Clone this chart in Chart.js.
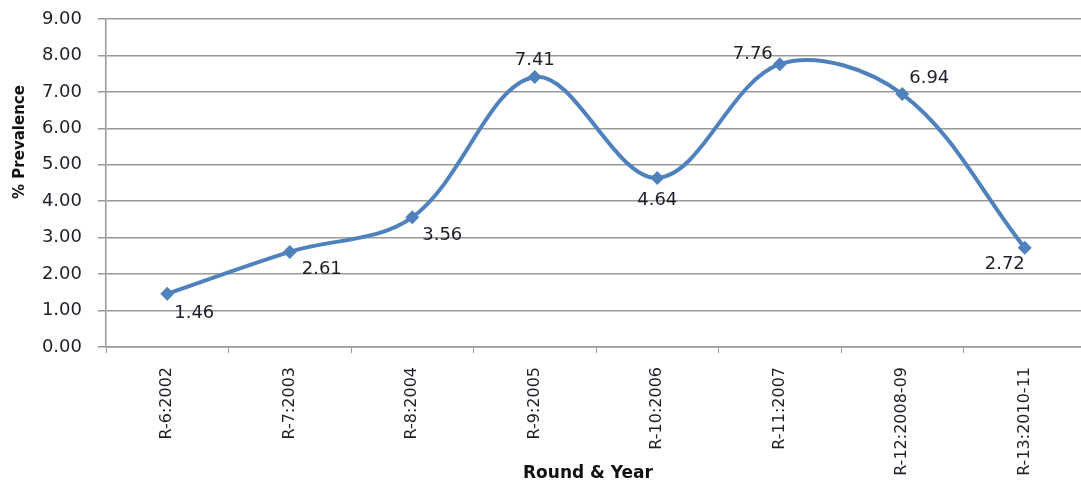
<!DOCTYPE html>
<html>
<head>
<meta charset="utf-8">
<script src="https://cdn.jsdelivr.net/npm/chart.js@4/dist/chart.umd.min.js"></script>
<style>
	html, body { margin: 0; padding: 0; background: #fff; overflow: hidden; }
	/* plot runs a few px past the right edge of the picture, as in the original */
	#wrap { width: 1093px; height: 485px; position: relative; }
</style>
</head>
<body>
<div id="wrap"><canvas id="prevalenceChart"></canvas></div>
<script>
const rounds = ['R-6:2002', 'R-7:2003', 'R-8:2004', 'R-9:2005', 'R-10:2006', 'R-11:2007', 'R-12:2008-09', 'R-13:2010-11'];
const prevalence = [1.46, 2.61, 3.56, 7.41, 4.64, 7.76, 6.94, 2.72];
const yTicks = [0, 1, 2, 3, 4, 5, 6, 7, 8, 9];

// label offsets from each point (px), as placed in the original
const labelOffsets = [[27, 20], [32, 17], [30, 18], [0, -17], [0, 22], [-27, -10], [27, -16], [-20, 16]];

const gridColor = '#999';
const textColor = '#1f1f2a';

const pointLabels = {
	id: 'pointLabels',
	afterDatasetsDraw(chart) {
		const { ctx } = chart;
		const meta = chart.getDatasetMeta(0);
		ctx.save();
		ctx.font = '18px "DejaVu Sans"';
		ctx.fillStyle = textColor;
		ctx.textAlign = 'center';
		ctx.textBaseline = 'middle';
		meta.data.forEach((pt, i) => {
			const [dx, dy] = labelOffsets[i];
			ctx.fillText(prevalence[i].toFixed(2), pt.x + dx, pt.y + dy);
		});
		ctx.restore();
	},
};

const axisTitles = {
	id: 'axisTitles',
	afterDraw(chart) {
		const { ctx } = chart;
		ctx.save();
		ctx.fillStyle = '#111';
		ctx.textAlign = 'center';
		ctx.textBaseline = 'middle';
		ctx.font = 'bold 17px "DejaVu Sans"';
		ctx.fillText('Round & Year', 588, 474);
		ctx.translate(20, 142);
		ctx.rotate(-Math.PI / 2);
		ctx.font = 'bold 15px "DejaVu Sans"';
		ctx.fillText('% Prevalence', 0, 0);
		ctx.restore();
	},
};

function trimPadding(scale) {
	scale.paddingTop = 0;
	scale.paddingBottom = 0;
}

new Chart(document.getElementById('prevalenceChart'), {
	type: 'line',
	data: {
		labels: rounds,
		datasets: [
			{
				label: '% Prevalence',
				data: prevalence,
				borderColor: '#4f81bd',
				backgroundColor: '#4f81bd',
				borderWidth: 4,
				tension: 0.35,
				pointStyle: 'rectRot',
				pointRadius: 7,
				pointBorderWidth: 0,
				fill: false,
			},
		],
	},
	options: {
		responsive: true,
		maintainAspectRatio: false,
		animation: false,
		layout: { padding: { top: 19, right: 0, bottom: 0, left: 0 } },
		plugins: {
			legend: { display: false },
			tooltip: { enabled: false },
		},
		scales: {
			x: {
				offset: true,
				grid: {
					offset: true,
					drawOnChartArea: false,
					color: gridColor,
					tickLength: 6,
				},
				border: { color: gridColor, width: 1.5 },
				ticks: {
					minRotation: 90,
					maxRotation: 90,
					padding: 14,
					color: textColor,
					font: { family: 'DejaVu Sans', size: 16 },
				},
				afterFit(scale) {
					scale.height = 138;
					trimPadding(scale);
				},
			},
			y: {
				min: 0,
				max: 9,
				afterBuildTicks(scale) {
					scale.ticks = yTicks.map((v) => ({ value: v }));
				},
				grid: {
					color: gridColor,
					lineWidth: 1.5,
					tickLength: 8,
				},
				border: { color: gridColor, width: 1.5 },
				ticks: {
					padding: 16,
					color: textColor,
					font: { family: 'DejaVu Sans', size: 18 },
					callback: (v) => Number(v).toFixed(2),
				},
				afterFit(scale) {
					scale.width = 106;
					trimPadding(scale);
				},
			},
		},
	},
	plugins: [pointLabels, axisTitles],
});
</script>
</body>
</html>
